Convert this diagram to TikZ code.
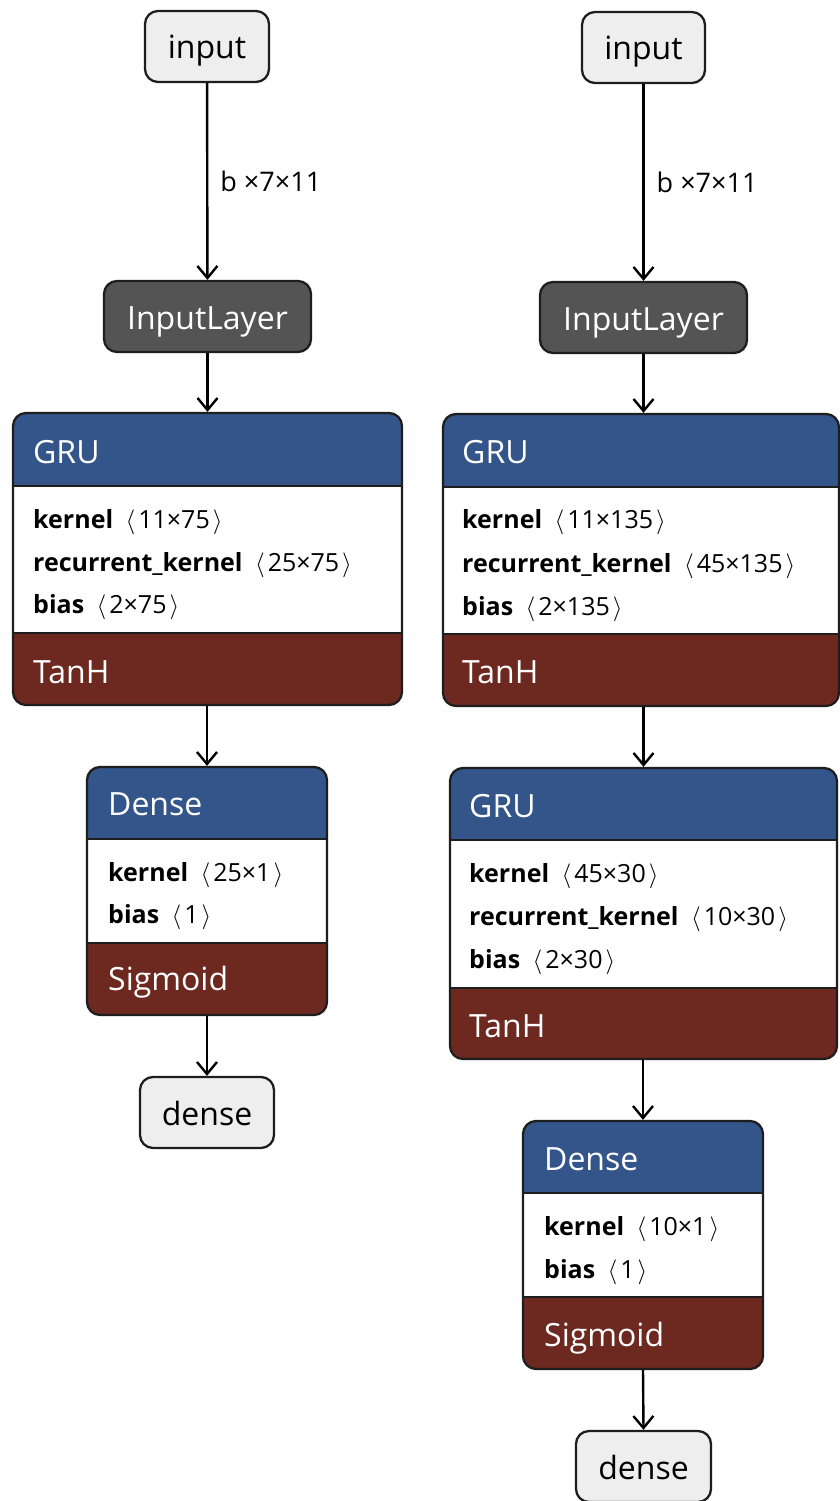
\documentclass[tikz,border=0pt]{standalone}
\usepackage{fontspec}
\setmainfont{Open Sans}
\usetikzlibrary{arrows.meta,fit}

\definecolor{hdrblue}{HTML}{33558A}
\definecolor{actred}{HTML}{6D2820}
\definecolor{lyrgray}{HTML}{545454}
\definecolor{iogray}{HTML}{EEEEEE}
\definecolor{edgeink}{HTML}{1E1E1E}

% tensor shape in angle brackets
\newcommand\dimsz[1]{\hspace{0.5em}$\big\langle$\hspace{0.12em}#1\hspace{0.12em}$\big\rangle$}

\tikzset{
  iobox/.style={draw=edgeink, line width=2.3pt, fill=iogray, rounded corners=13pt,
    inner sep=0pt, text height=32pt, text depth=7pt, font=\fontsize{32}{38}\selectfont},
  inbox/.style={draw=edgeink, line width=2.3pt, fill=lyrgray, rounded corners=13pt,
    inner sep=0pt, text height=32pt, text depth=7pt, text=white, font=\fontsize{32}{38}\selectfont},
  frame/.style={draw=edgeink, line width=2.3pt, rounded corners=13pt, inner sep=0pt},
  hdtxt/.style={font=\fontsize{32}{38}\selectfont, text=white, inner sep=0pt, anchor=base west},
  bodytxt/.style={font=\fontsize{25}{30}\selectfont, inner sep=0pt, anchor=base west},
  lbl/.style={font=\fontsize{27}{32}\selectfont, inner sep=0pt, anchor=west, xshift=12pt},
  flow/.style={draw=black, line width=2.4pt, -{Straight Barb[length=12pt,width=20pt,line width=2.4pt]}}
}

% layer block: name, left, top, right, bottom, header bottom, footer top
\newcommand\layerframe[7]{%
  \begin{scope}
    \clip[rounded corners=13pt] (#2,#3) rectangle (#4,#5);
    \fill[hdrblue] (#2,#3) rectangle (#4,#6);
    \fill[white] (#2,#6) rectangle (#4,#7);
    \fill[actred] (#2,#7) rectangle (#4,#5);
  \end{scope}
  \draw[edgeink, line width=2.3pt] (#2,#6) -- (#4,#6) (#2,#7) -- (#4,#7);
  \node[frame, fit={(#2,#3) (#4,#5)}] (#1) {};
}

\begin{document}
\begin{tikzpicture}[x=1pt, y=-1pt]
  \useasboundingbox (0,0) rectangle (840,1501);
  \fill[white] (0,0) rectangle (840,1501);

  % ---------------- left network ----------------
  \node[iobox, minimum width=124pt, minimum height=71pt] (inL) at (207,46.5) {input};
  \node[inbox, minimum width=207pt, minimum height=71pt] (ilL) at (207.5,316.5) {InputLayer};

  \layerframe{gruL}{13}{413}{402}{705}{486}{633}
  \node[hdtxt] (gruLt) at (33,463) {GRU};
  \node[bodytxt] (gruLa) at (33,528) {\textbf{kernel}\dimsz{11×75}};
  \node[bodytxt] (gruLb) at (33,571) {\textbf{recurrent\_kernel}\dimsz{25×75}};
  \node[bodytxt] (gruLc) at (33,613) {\textbf{bias}\dimsz{2×75}};
  \node[hdtxt] (gruLf) at (33,683) {TanH};

  \layerframe{denL}{87}{767}{327}{1015}{839}{943}
  \node[hdtxt] (denLt) at (108,815) {Dense};
  \node[bodytxt] (denLa) at (108,881) {\textbf{kernel}\dimsz{25×1}};
  \node[bodytxt] (denLb) at (108,923) {\textbf{bias}\dimsz{1}};
  \node[hdtxt] (denLf) at (108,990) {Sigmoid};

  \node[iobox, minimum width=134pt, minimum height=71pt] (outL) at (207,1112.5) {dense};

  \draw[flow] (inL) -- node[lbl] (shpL) {b ×7×11} (ilL);
  \draw[flow] (ilL.south) -- (ilL.south |- gruL.north);
  \draw[flow] (gruL.south -| denL.north) -- (denL.north);
  \draw[flow] (denL.south) -- (outL.north);

  % ---------------- right network ----------------
  \node[iobox, minimum width=123pt, minimum height=71pt] (inR) at (643.5,47.5) {input};
  \node[inbox, minimum width=207pt, minimum height=71pt] (ilR) at (643.5,317.5) {InputLayer};

  \layerframe{gruR}{443}{414}{839}{706}{487}{634}
  \node[hdtxt] (gruRt) at (462,463) {GRU};
  \node[bodytxt] (gruRa) at (462,528) {\textbf{kernel}\dimsz{11×135}};
  \node[bodytxt] (gruRb) at (462,572) {\textbf{recurrent\_kernel}\dimsz{45×135}};
  \node[bodytxt] (gruRc) at (462,615) {\textbf{bias}\dimsz{2×135}};
  \node[hdtxt] (gruRf) at (462,683) {TanH};

  \layerframe{gruS}{450}{768}{837}{1059}{840}{988}
  \node[hdtxt] (gruSt) at (469,817) {GRU};
  \node[bodytxt] (gruSa) at (469,882) {\textbf{kernel}\dimsz{45×30}};
  \node[bodytxt] (gruSb) at (469,925) {\textbf{recurrent\_kernel}\dimsz{10×30}};
  \node[bodytxt] (gruSc) at (469,968) {\textbf{bias}\dimsz{2×30}};
  \node[hdtxt] (gruSf) at (469,1037) {TanH};

  \layerframe{denR}{523}{1121}{763}{1369}{1193}{1297}
  \node[hdtxt] (denRt) at (544,1170) {Dense};
  \node[bodytxt] (denRa) at (544,1235) {\textbf{kernel}\dimsz{10×1}};
  \node[bodytxt] (denRb) at (544,1278) {\textbf{bias}\dimsz{1}};
  \node[hdtxt] (denRf) at (544,1346) {Sigmoid};

  \node[iobox, minimum width=135pt, minimum height=71pt] (outR) at (643.5,1466.5) {dense};

  \draw[flow] (inR) -- node[lbl] (shpR) {b ×7×11} (ilR);
  \draw[flow] (ilR.south) -- (ilR.south |- gruR.north);
  \draw[flow] (ilR.south |- gruR.south) -- (ilR.south |- gruS.north);
  \draw[flow] (gruS.south -| denR.north) -- (denR.north);
  \draw[flow] (denR.south) -- (outR.north);
\end{tikzpicture}
\end{document}
